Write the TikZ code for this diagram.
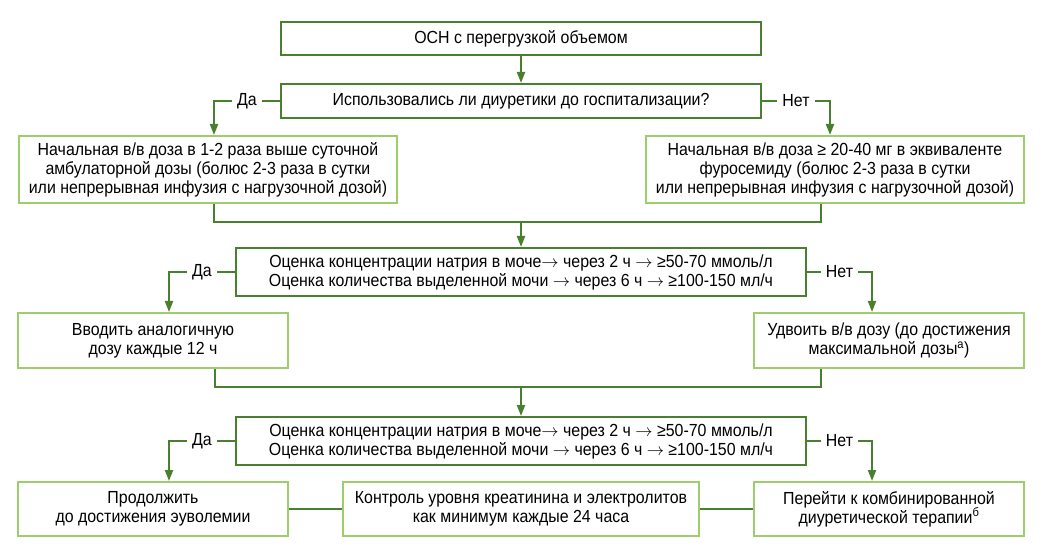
\documentclass[tikz,border=0pt]{standalone}
\usepackage{fontspec}
\setmainfont{Liberation Sans}[FakeStretch=0.91]
\usepackage{tikz}
\usepackage{xcolor}
\usetikzlibrary{arrows.meta, positioning, calc}
\definecolor{cDark}{RGB}{72,128,48}
\definecolor{cLight}{RGB}{158,206,108}
\newcommand{\rarr}{\ensuremath{\rightarrow}}
\tikzset{
	decide/.style   ={rectangle, draw=cDark, line width=2pt, inner sep=0pt, align=center, fill=white},
	action/.style   ={rectangle, draw=cLight, line width=2pt, inner sep=0pt, align=center, fill=white},
	flowarrow/.style={-{Triangle[length=11pt, width=8pt]}, draw=cDark, line width=2pt},
	link/.style     ={draw=cDark, line width=2pt},
	ans/.style      ={fill=white, inner sep=5pt, text=black},
}

\begin{document}
\begin{tikzpicture}[x=1pt, y=-1pt, font=\fontsize{17.5}{19}\selectfont]
	\useasboundingbox (0,0) rectangle (1044,553);
	% question boxes
	\node[decide, minimum width=480pt, minimum height=33pt] (osn) at (521,38.5) {ОСН с перегрузкой объемом};
	\node[decide, minimum width=480pt, minimum height=34pt] (q1) at (521,101) {Использовались ли диуретики до госпитализации?};
	% first doses
	\node[action, minimum width=378pt, minimum height=67pt] (doseA) at (208,169.5) {Начальная в/в доза в 1-2 раза выше суточной\\амбулаторной дозы (болюс 2-3 раза в сутки\\или непрерывная инфузия с нагрузочной дозой)};
	\node[action, minimum width=378pt, minimum height=67pt] (doseB) at (835,169.5) {Начальная в/в доза ≥ 20-40 мг в эквиваленте\\фуросемиду (болюс 2-3 раза в сутки\\или непрерывная инфузия с нагрузочной дозой)};
	% first check
	\node[decide, minimum width=570pt, minimum height=48pt] (chk1) at (521,272) {Оценка концентрации натрия в моче\rarr{} через 2 ч \rarr{} ≥50-70 ммоль/л\\Оценка количества выделенной мочи \rarr{} через 6 ч \rarr{} ≥100-150 мл/ч};
	\node[action, minimum width=270pt, minimum height=55pt] (same) at (153,340.5) {Вводить аналогичную\\дозу каждые 12 ч};
	\node[action, minimum width=270pt, minimum height=55pt] (dbl) at (889,340.5) {Удвоить в/в дозу (до достижения\\максимальной дозы\textsuperscript{а})};
	% second check
	\node[decide, minimum width=570pt, minimum height=48pt] (chk2) at (521,441) {Оценка концентрации натрия в моче\rarr{} через 2 ч \rarr{} ≥50-70 ммоль/л\\Оценка количества выделенной мочи \rarr{} через 6 ч \rarr{} ≥100-150 мл/ч};
	\node[action, minimum width=270pt, minimum height=54pt] (cont) at (153,509) {Продолжить\\до достижения эуволемии};
	\node[action, minimum width=356pt, minimum height=54pt] (mon) at (521,509) {Контроль уровня креатинина и электролитов\\как минимум каждые 24 часа};
	\node[action, minimum width=270pt, minimum height=54pt] (comb) at (889,509) {Перейти к комбинированной\\диуретической терапии\textsuperscript{б}};
	% joins
	\coordinate (m1) at (521,222);
	\coordinate (m2) at (521,387);
	% connectors
	\draw[flowarrow] (osn) -- (q1);
	\draw[flowarrow] (q1.west) -| node[ans, pos=0.25] {Да} ([xshift=6pt]doseA.north);
	\draw[flowarrow] (q1.east) -| node[ans, pos=0.25] {Нет} ([xshift=-5pt]doseB.north);
	\draw[link] ([xshift=6pt]doseA.south) |- (m1);
	\draw[link] ([xshift=-14pt]doseB.south) |- (m1);
	\draw[flowarrow] (m1) -- (chk1);
	\draw[flowarrow] (chk1.west) -| node[ans, pos=0.25] {Да} ([xshift=16pt]same.north);
	\draw[flowarrow] (chk1.east) -| node[ans, pos=0.25] {Нет} ([xshift=-17pt]dbl.north);
	\draw[link] ([xshift=62pt]same.south) |- (m2);
	\draw[link] ([xshift=-68pt]dbl.south) |- (m2);
	\draw[flowarrow] (m2) -- (chk2);
	\draw[flowarrow] (chk2.west) -| node[ans, pos=0.25] {Да} ([xshift=16pt]cont.north);
	\draw[flowarrow] (chk2.east) -| node[ans, pos=0.25] {Нет} ([xshift=-17pt]comb.north);
	\draw[link] (cont) -- (mon);
	\draw[link] (mon) -- (comb);
\end{tikzpicture}
\end{document}
